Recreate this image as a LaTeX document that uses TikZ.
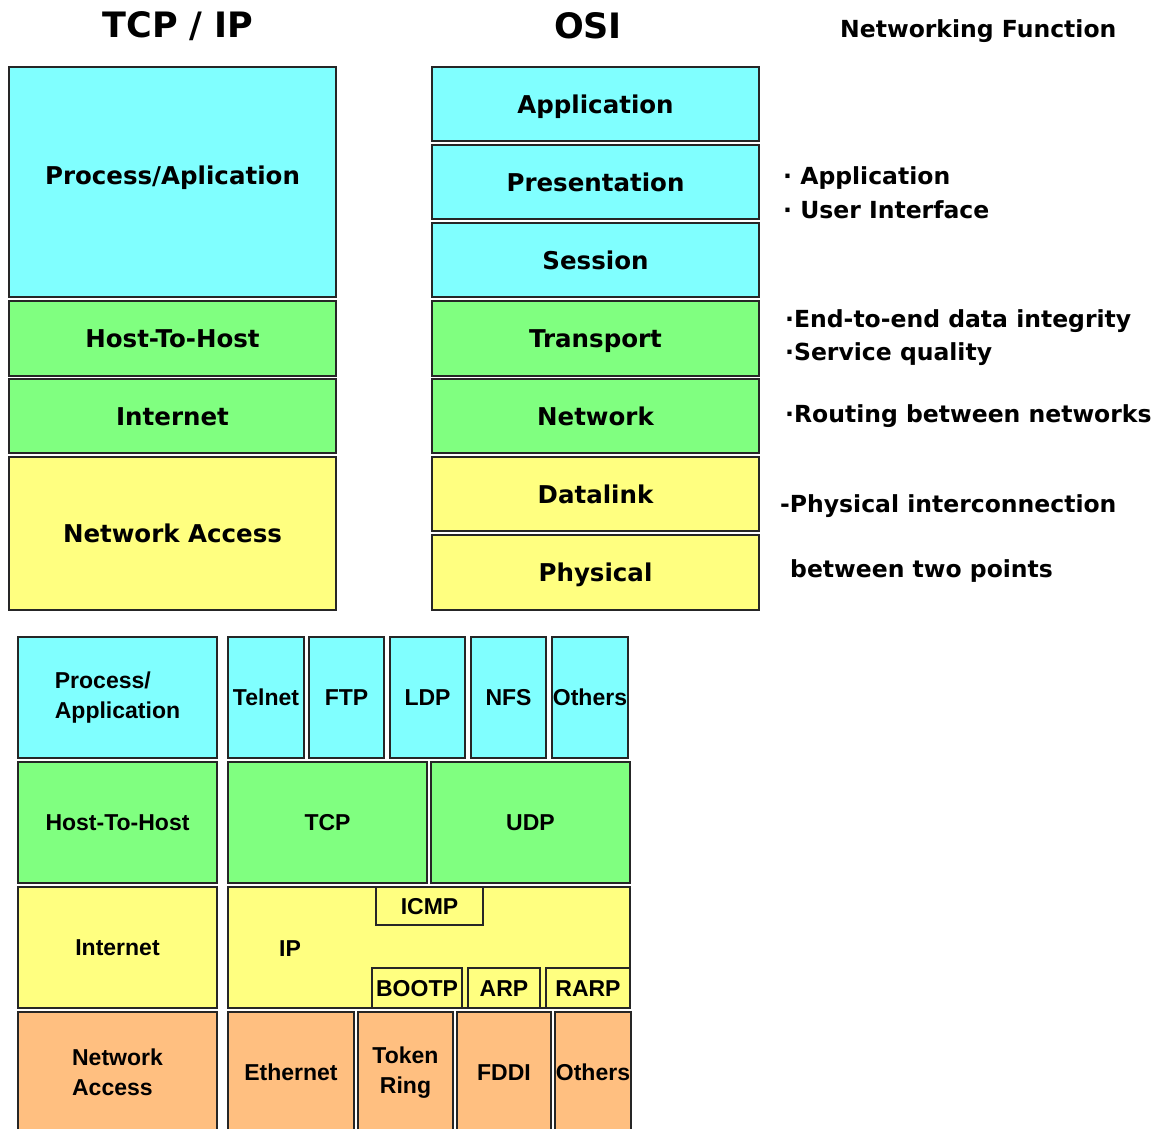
\documentclass[tikz,border=0pt]{standalone}
\usepackage{fontspec}
\setmainfont{DejaVu Sans}
\newfontfamily\arialfont{Liberation Sans}
\newcommand{\titlefont}{\fontsize{35}{42}\selectfont\bfseries}
\newcommand{\bigfont}{\fontsize{24.5}{30}\selectfont\bfseries}
\newcommand{\notefont}{\fontsize{23.5}{30}\selectfont\bfseries}
\newcommand{\smallfont}{\arialfont\fontsize{23}{30}\selectfont\bfseries}
\definecolor{appcyan}{HTML}{80FFFF}
\definecolor{hostgreen}{HTML}{80FF80}
\definecolor{netyellow}{HTML}{FFFF80}
\definecolor{linkorange}{HTML}{FFBF80}
\begin{document}
\begin{tikzpicture}[
	x=1pt, y=-1pt,
	box/.style={draw=black!85, line width=1.6pt, anchor=north west, inner sep=0pt, outer sep=0pt},
	big/.style={box, font=\bigfont, text height=18pt, text depth=0pt},
	small/.style={box, font=\smallfont, text height=16.5pt, text depth=0pt},
	twoline/.style={box, font=\smallfont, align=left},
	note/.style={anchor=base west, inner sep=0pt, font=\notefont},
	head/.style={inner sep=0pt, font=\titlefont}
	]
	\useasboundingbox (0,0) rectangle (1164,1128);
	\clip (0,0) rectangle (1164,1128);
	\node[head] (tcptitle) at (178,26) {TCP / IP};
	\node[head] (osititle) at (588,26) {OSI};
	\node[note, anchor=base west] (function) at (840,37) {Networking Function};
	\node[big, fill=appcyan, minimum width=327, minimum height=230, text depth=14pt] (tcpapp) at (9,67) {Process/Aplication};
	\node[big, fill=hostgreen, minimum width=327, minimum height=75] (tcphost) at (9,301) {Host-To-Host};
	\node[big, fill=hostgreen, minimum width=327, minimum height=74] (tcpnet) at (9,379) {Internet};
	\node[big, fill=netyellow, minimum width=327, minimum height=153] (tcpaccess) at (9,457) {Network Access};
	\node[big, fill=appcyan, minimum width=327, minimum height=74] (application) at (432,67) {Application};
	\node[big, fill=appcyan, minimum width=327, minimum height=74] (presentation) at (432,145) {Presentation};
	\node[big, fill=appcyan, minimum width=327, minimum height=74] (session) at (432,223) {Session};
	\node[big, fill=hostgreen, minimum width=327, minimum height=75] (transport) at (432,301) {Transport};
	\node[big, fill=hostgreen, minimum width=327, minimum height=74] (network) at (432,379) {Network};
	\node[big, fill=netyellow, minimum width=327, minimum height=74] (datalink) at (432,457) {Datalink};
	\node[big, fill=netyellow, minimum width=327, minimum height=75] (physical) at (432,535) {Physical};
	\node[note] (appnote) at (783,184) {· Application};
	\node[note] (uinote) at (783,218) {· User Interface};
	\node[note] (endnote) at (785,327) {·End-to-end data integrity};
	\node[note] (qosnote) at (785,360) {·Service quality};
	\node[note] (routenote) at (785,422) {·Routing between networks};
	\node[note] (physnote) at (780,512) {-Physical interconnection};
	\node[note] (pointnote) at (790,577) {between two points};
	\node[twoline, fill=appcyan, minimum width=199, minimum height=121] (procapp) at (18,637) {Process/\\Application};
	\node[small, fill=appcyan, minimum width=76, minimum height=121] (telnet) at (228,637) {Telnet};
	\node[small, fill=appcyan, minimum width=75, minimum height=121] (ftp) at (309,637) {FTP};
	\node[small, fill=appcyan, minimum width=75, minimum height=121] (ldp) at (390,637) {LDP};
	\node[small, fill=appcyan, minimum width=75, minimum height=121] (nfs) at (471,637) {NFS};
	\node[small, fill=appcyan, minimum width=76, minimum height=121] (appothers) at (552,637) {Others};
	\node[small, fill=hostgreen, minimum width=199, minimum height=121] (hosthost) at (18,762) {Host-To-Host};
	\node[small, fill=hostgreen, minimum width=199, minimum height=121] (tcp) at (228,762) {TCP};
	\node[small, fill=hostgreen, minimum width=199, minimum height=121] (udp) at (431,762) {UDP};
	\node[small, fill=netyellow, minimum width=199, minimum height=121] (internet) at (18,887) {Internet};
	\node[small, fill=netyellow, minimum width=402, minimum height=121] (ip) at (228,887) {};
	\node[small, anchor=center, draw=none] (iplabel) at (290,948) {IP};
	\node[small, fill=netyellow, minimum width=107, minimum height=38] (icmp) at (376,887) {ICMP};
	\node[small, fill=netyellow, minimum width=90, minimum height=40] (bootp) at (372,968) {BOOTP};
	\node[small, fill=netyellow, minimum width=72, minimum height=40] (arp) at (468,968) {ARP};
	\node[small, fill=netyellow, minimum width=84, minimum height=40] (rarp) at (546,968) {RARP};
	\node[twoline, fill=linkorange, minimum width=199, minimum height=121] (netaccess) at (18,1012) {Network\\Access};
	\node[small, fill=linkorange, minimum width=126, minimum height=121] (ethernet) at (228,1012) {Ethernet};
	\node[twoline, align=center, fill=linkorange, minimum width=95, minimum height=121] (token) at (358,1012) {Token\\Ring};
	\node[small, fill=linkorange, minimum width=94, minimum height=121] (fddi) at (457,1012) {FDDI};
	\node[small, fill=linkorange, minimum width=76, minimum height=121] (linkothers) at (555,1012) {Others};
\end{tikzpicture}
\end{document}
